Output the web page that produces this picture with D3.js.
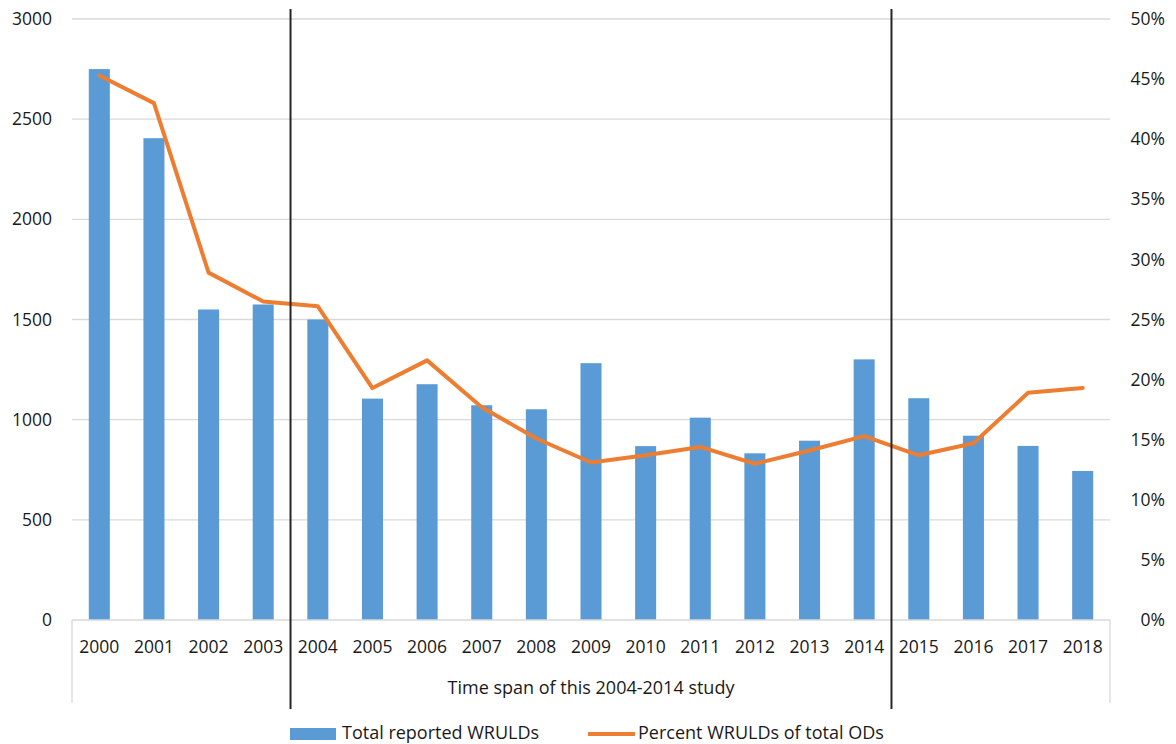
<!DOCTYPE html>
<html>
<head>
<meta charset="utf-8">
<script src="https://cdn.jsdelivr.net/npm/d3@7"></script>
<style>
  html, body { margin: 0; padding: 0; background: #fff; }
  svg { display: block; font-family: "Open Sans", "Liberation Sans", Arial, sans-serif; }
  text { fill: #1a1a1a; }
</style>
</head>
<body>
<svg id="chart" width="1176" height="744"></svg>
<script>
// Years on the category axis
const years = ["2000","2001","2002","2003","2004","2005","2006","2007","2008","2009",
               "2010","2011","2012","2013","2014","2015","2016","2017","2018"];
// Total reported WRULDs per year (left axis)
const totalWRULDs = [2750, 2405, 1550, 1575, 1500, 1105, 1177, 1072, 1052, 1282,
                     868, 1010, 832, 895, 1301, 1107, 920, 869, 744];
// WRULDs as a percentage of all occupational diseases (right axis)
const percentWRULDs = [45.3, 43.0, 28.9, 26.5, 26.1, 19.3, 21.6, 17.7, 15.1, 13.1,
                       13.7, 14.4, 13.0, 14.1, 15.3, 13.7, 14.7, 18.9, 19.3];
const leftTicks = [0, 500, 1000, 1500, 2000, 2500, 3000];
const rightTicks = [0, 5, 10, 15, 20, 25, 30, 35, 40, 45, 50];
const studyStart = "2004", studyEnd = "2014";
const studyLabel = "Time span of this 2004-2014 study";
const legendBar = "Total reported WRULDs";
const legendLine = "Percent WRULDs of total ODs";

const svg = d3.select("#chart");
const plotLeft = 72, plotRight = 1110, plotTop = 19, plotBase = 620;
const tickFont = 17.5, labelFont = 18;

const x = d3.scaleBand().domain(years).range([plotLeft, plotRight])
  .paddingInner(0.615).paddingOuter(0.3075);
const yL = d3.scaleLinear().domain([0, 3000]).range([plotBase, plotTop]);
const yR = d3.scaleLinear().domain([0, 50]).range([plotBase, plotTop]);
const step = x.step();

// horizontal gridlines
svg.append("g").selectAll("line").data(leftTicks.filter(d => d > 0)).join("line")
  .attr("x1", plotLeft).attr("x2", plotRight)
  .attr("y1", d => yL(d)).attr("y2", d => yL(d))
  .attr("stroke", "#d9d9d9").attr("stroke-width", 1.3);

// bars
svg.append("g").selectAll("rect").data(years).join("rect")
  .attr("x", d => x(d)).attr("width", x.bandwidth())
  .attr("y", (d, i) => yL(totalWRULDs[i]))
  .attr("height", (d, i) => plotBase - yL(totalWRULDs[i]))
  .attr("fill", "#5b9bd5");

// category axis: baseline and outer dividers of the two-level axis
const axisBottom = 703;
svg.append("line").attr("x1", plotLeft).attr("x2", plotRight)
  .attr("y1", plotBase).attr("y2", plotBase)
  .attr("stroke", "#d9d9d9").attr("stroke-width", 1.3);
[plotLeft, plotRight].forEach(xx => svg.append("line")
  .attr("x1", xx).attr("x2", xx).attr("y1", plotBase).attr("y2", axisBottom)
  .attr("stroke", "#d9d9d9").attr("stroke-width", 1.3));

// year labels
svg.append("g").selectAll("text").data(years).join("text")
  .attr("x", d => x(d) + x.bandwidth() / 2).attr("y", 653)
  .attr("text-anchor", "middle").attr("font-size", tickFont)
  .text(d => d);

// percentage line
const line = d3.line()
  .x((d, i) => x(years[i]) + x.bandwidth() / 2)
  .y(d => yR(d));
svg.append("path").datum(percentWRULDs)
  .attr("d", line).attr("fill", "none")
  .attr("stroke", "#ed7d31").attr("stroke-width", 4)
  .attr("stroke-linejoin", "round").attr("stroke-linecap", "round");

// study period boundaries
const x0 = x(studyStart) - (step - x.bandwidth()) / 2;
const x1 = x(studyEnd) + x.bandwidth() + (step - x.bandwidth()) / 2;
[x0, x1].forEach(xx => svg.append("line")
  .attr("x1", xx).attr("x2", xx).attr("y1", 9).attr("y2", 709)
  .attr("stroke", "#262626").attr("stroke-width", 2));

svg.append("text").attr("x", (x0 + x1) / 2).attr("y", 694)
  .attr("text-anchor", "middle").attr("font-size", labelFont).text(studyLabel);

// left axis labels
svg.append("g").selectAll("text").data(leftTicks).join("text")
  .attr("x", 52).attr("y", d => yL(d)).attr("dy", "0.35em")
  .attr("text-anchor", "end").attr("font-size", tickFont)
  .text(d => d);

// right axis labels
svg.append("g").selectAll("text").data(rightTicks).join("text")
  .attr("x", 1165).attr("y", d => yR(d)).attr("dy", "0.35em")
  .attr("text-anchor", "end").attr("font-size", tickFont)
  .text(d => d + "%");

// legend
svg.append("rect").attr("x", 290).attr("y", 728).attr("width", 46).attr("height", 12)
  .attr("fill", "#5b9bd5");
svg.append("text").attr("x", 342).attr("y", 739).attr("font-size", labelFont).text(legendBar);
svg.append("line").attr("x1", 588).attr("x2", 635).attr("y1", 734).attr("y2", 734)
  .attr("stroke", "#ed7d31").attr("stroke-width", 4);
svg.append("text").attr("x", 638).attr("y", 739).attr("font-size", labelFont).text(legendLine);
</script>
</body>
</html>
